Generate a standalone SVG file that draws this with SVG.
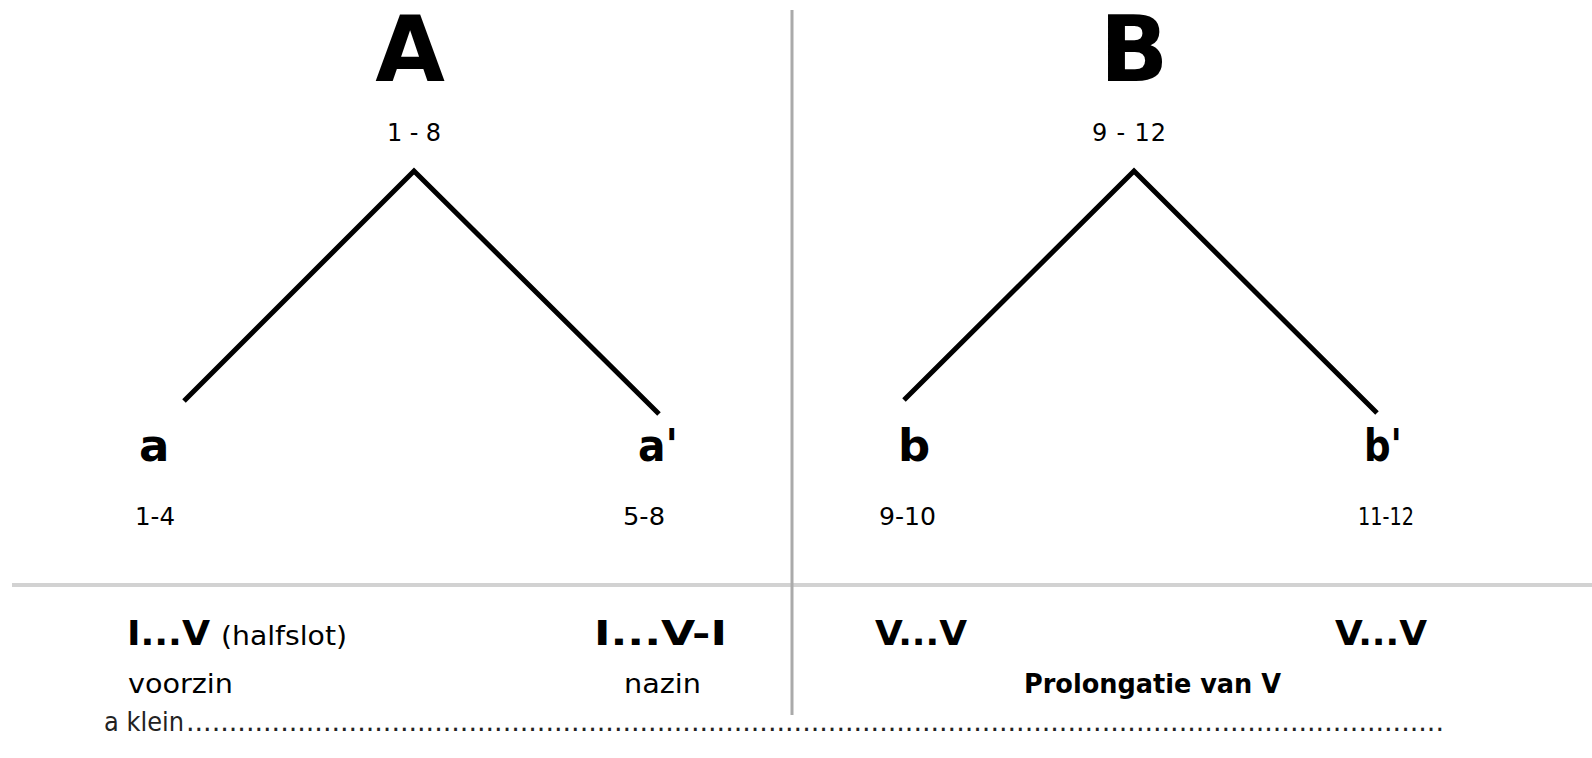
<svg xmlns="http://www.w3.org/2000/svg" width="1592" height="758" viewBox="0 0 1592 758">
<style>
.big{font-family:"DejaVu Sans","Liberation Sans",sans-serif;font-weight:bold;font-size:90px;fill:#000;text-anchor:middle}
.num{font-family:"DejaVu Sans","Liberation Sans",sans-serif;font-size:24px;fill:#000}
.lab{font-family:"DejaVu Sans","Liberation Sans",sans-serif;font-weight:bold;font-size:45px;fill:#000}
.chord{font-family:"DejaVu Sans","Liberation Sans",sans-serif;font-weight:bold;font-size:34px;fill:#000}
.reg{font-family:"DejaVu Sans","Liberation Sans",sans-serif;font-size:26px;fill:#000}
.bold2{font-family:"DejaVu Sans","Liberation Sans",sans-serif;font-weight:bold;font-size:26px;fill:#000}
.foot{font-family:"DejaVu Sans","Liberation Sans",sans-serif;font-size:27px;fill:#222}
.tree{fill:none;stroke:#000;stroke-width:5;stroke-linejoin:miter}
</style>
<rect width="1592" height="758" fill="#fff"/>
<g id="dividers">
<line x1="12" y1="585" x2="1592" y2="585" stroke="#d2d2d2" stroke-width="4"/>
<line x1="792" y1="10" x2="792" y2="715" stroke="#aaaaaa" stroke-width="3"/>
</g>
<g id="connectors">
<polyline class="tree" points="184,401 414,171 659,414"/>
<polyline class="tree" points="904,400 1134,171 1377,413"/>
</g>
<g id="node-A">
<text class="big" x="410" y="81">A</text>
<text class="num" x="414" y="141" text-anchor="middle" textLength="54">1 - 8</text>
</g>
<g id="node-B">
<text class="big" x="1134" y="81">B</text>
<text class="num" x="1129" y="141" text-anchor="middle" textLength="74">9 - 12</text>
</g>
<g id="node-a">
<text class="lab" x="139" y="461">a</text>
<text class="num" x="135" y="525" textLength="40" lengthAdjust="spacingAndGlyphs">1-4</text>
<text class="chord" x="127" y="645" textLength="83" lengthAdjust="spacingAndGlyphs">I...V</text>
<text class="reg" x="221" y="645" textLength="126" lengthAdjust="spacingAndGlyphs">(halfslot)</text>
<text class="reg" x="128" y="693" textLength="105" lengthAdjust="spacingAndGlyphs">voorzin</text>
</g>
<g id="node-a2">
<text class="lab" x="638" y="461" textLength="40" lengthAdjust="spacingAndGlyphs">a'</text>
<text class="num" x="623" y="525" textLength="42" lengthAdjust="spacingAndGlyphs">5-8</text>
<text class="chord" x="594" y="645" textLength="133" lengthAdjust="spacingAndGlyphs">I...V-I</text>
<text class="reg" x="624" y="693" textLength="77" lengthAdjust="spacingAndGlyphs">nazin</text>
</g>
<g id="node-b">
<text class="lab" x="898" y="461">b</text>
<text class="num" x="879" y="525" textLength="57" lengthAdjust="spacingAndGlyphs">9-10</text>
<text class="chord" x="875" y="645" textLength="92" lengthAdjust="spacingAndGlyphs">V...V</text>
</g>
<g id="node-b2">
<text class="lab" x="1364" y="461" textLength="38" lengthAdjust="spacingAndGlyphs">b'</text>
<text class="num" x="1358" y="525" textLength="56" lengthAdjust="spacingAndGlyphs">11-12</text>
<text class="chord" x="1335" y="645" textLength="92" lengthAdjust="spacingAndGlyphs">V...V</text>
</g>
<g id="note-prolongatie">
<text class="bold2" x="1024" y="693" textLength="257" lengthAdjust="spacingAndGlyphs">Prolongatie van V</text>
</g>
<g id="footer">
<text class="foot" x="104" y="731"><tspan textLength="80" lengthAdjust="spacingAndGlyphs">a klein</tspan><tspan x="186" textLength="1258" lengthAdjust="spacing">...................................................................................................................................................</tspan></text>
</g>
</svg>
